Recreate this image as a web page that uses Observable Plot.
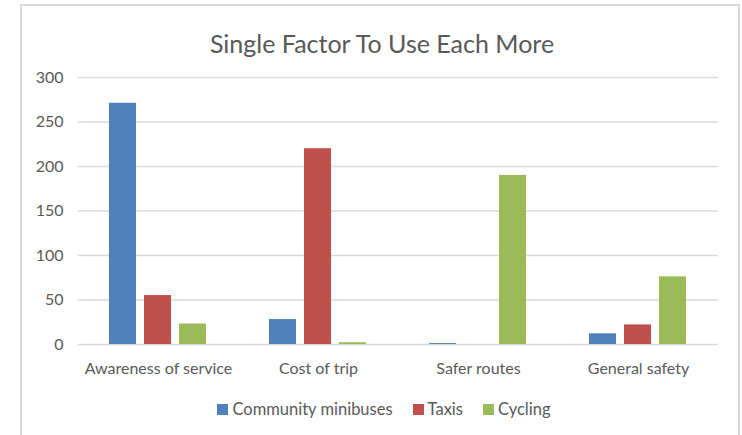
<!DOCTYPE html>
<html>
<head>
<meta charset="utf-8">
<script src="https://cdn.jsdelivr.net/npm/d3@7"></script>
<script src="https://cdn.jsdelivr.net/npm/@observablehq/plot@0.6"></script>
<style>
  html, body { margin: 0; padding: 0; background: #fff; }
  #wrap { position: relative; width: 742px; height: 435px; overflow: hidden; font-family: Lato, "Open Sans", sans-serif; color: #595959; }
  #frame { position: absolute; left: 20px; top: 4px; width: 716px; height: 470px; border: 2px solid #d9d9d9; }
  #title { position: absolute; left: 22px; width: 720px; top: 31px; text-align: center; font-size: 25px; line-height: 25px; color: #595959; white-space: nowrap; }
  #chart { position: absolute; left: 0; top: 60px; }
  #legend { position: absolute; left: 0; width: 768px; top: 399px; height: 20px; display: flex; justify-content: center; align-items: center; font-size: 16.5px; color: #595959; }
  .item { display: flex; align-items: center; margin: 0 10px; }
  .sw { width: 11px; height: 11px; margin-right: 4px; }
</style>
</head>
<body>
<div id="wrap">
  <div id="frame"></div>
  <div id="title">Single Factor To Use Each More</div>
  <div id="chart"></div>
  <div id="legend"></div>
</div>
<script>
const categories = ["Awareness of service", "Cost of trip", "Safer routes", "General safety"];
const series = ["Community minibuses", "Taxis", "Cycling"];
const colors = ["#4F81BD", "#C0504D", "#9BBB59"];
const minibuses = [271, 28, 1, 12];
const taxis = [55, 220, 0, 22];
const cycling = [23, 2, 190, 76];
const yTicks = [0, 50, 100, 150, 200, 250, 300];

const valuesBySeries = [minibuses, taxis, cycling];
const rows = [];
categories.forEach((c, i) => {
  series.forEach((s, j) => rows.push({category: c, series: s, value: valuesBySeries[j][i]}));
});

const chart = Plot.plot({
  width: 742,
  height: 324,
  marginTop: 17,
  marginBottom: 40,
  marginLeft: 77,
  marginRight: 24,
  style: {fontFamily: "Lato, 'Open Sans', sans-serif", fontSize: "16px", color: "#595959", background: "transparent"},
  fx: {domain: categories, padding: 0, label: null, tickSize: 0, tickPadding: 18, fontSize: 16.5},
  x: {domain: series, paddingInner: 0.222, paddingOuter: 0.837, axis: null},
  y: {domain: [0, 300], ticks: yTicks, tickSize: 0, tickPadding: 15, label: null},
  color: {domain: series, range: colors},
  marks: [
    Plot.ruleY(yTicks, {stroke: "#d9d9d9", strokeWidth: 1.5, strokeOpacity: 1}),
    Plot.barY(rows, {fx: "category", x: "series", y: "value", fill: "series"})
  ]
});
document.getElementById("chart").appendChild(chart);

const legend = document.getElementById("legend");
series.forEach((s, j) => {
  const item = document.createElement("div");
  item.className = "item";
  const sw = document.createElement("span");
  sw.className = "sw";
  sw.style.background = colors[j];
  const t = document.createElement("span");
  t.textContent = s;
  item.appendChild(sw);
  item.appendChild(t);
  legend.appendChild(item);
});
</script>
</body>
</html>
